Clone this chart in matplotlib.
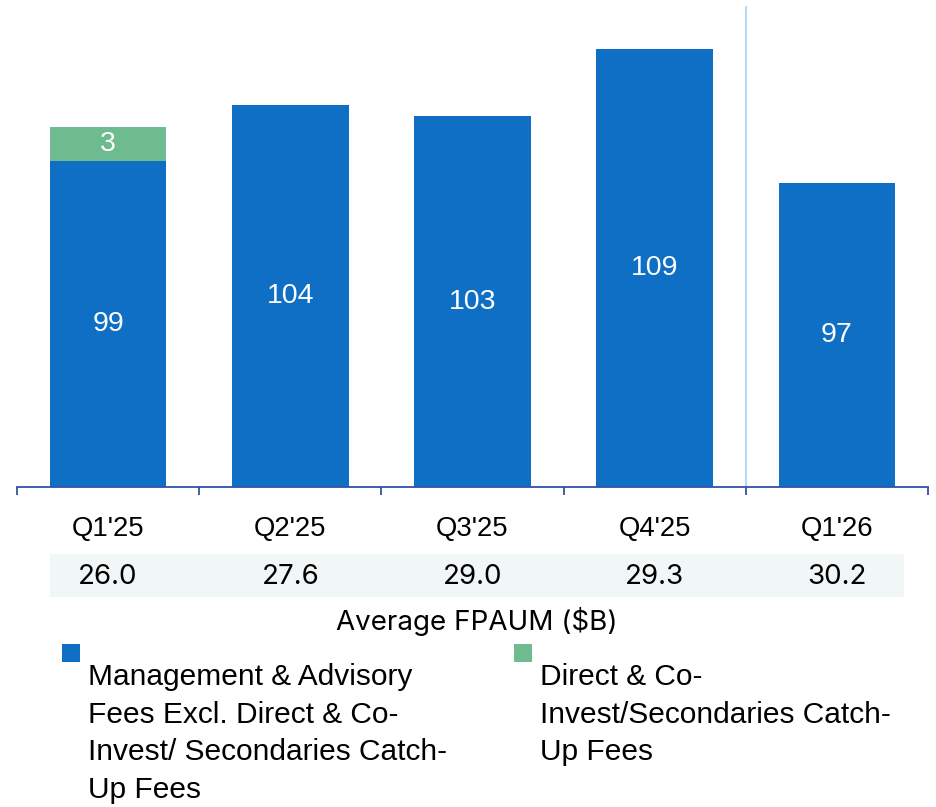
import matplotlib
matplotlib.use("Agg")
import matplotlib.pyplot as plt
from matplotlib.patches import Rectangle
import numpy as np

# data
quarters = ["Q1'25", "Q2'25", "Q3'25", "Q4'25", "Q1'26"]
mgmt_fees = [99, 104, 103, 109, 97]
catchup_fees = [3, 0, 0, 0, 0]
avg_fpaum = ["26.0", "27.6", "29.0", "29.3", "30.2"]
legend_labels = ["Management & Advisory\nFees Excl. Direct & Co-\nInvest/ Secondaries Catch-\nUp Fees",
                 "Direct & Co-\nInvest/Secondaries Catch-\nUp Fees"]

BLUE = "#0e6fc4"
GREEN = "#6dbb8f"
AXIS = "#3350a8"

plt.rcParams['font.family'] = ['Liberation Sans', 'DejaVu Sans']
GROTESK = ['Inter', 'Roboto', 'DejaVu Sans']

W, H = 936, 807
fig = plt.figure(figsize=(W/100, H/100), dpi=100)
ax = fig.add_axes([17/W, 1-487/H, 911/W, 487/H])

x = np.arange(len(quarters))
mgmt = np.array(mgmt_fees)
catch = np.array(catchup_fees)
ax.bar(x, mgmt, width=0.64, color=BLUE, bottom=0, zorder=2)
ax.bar(x, catch, width=0.64, bottom=mgmt, color=GREEN, zorder=2)
ax.set_ylim(69.8, 113.4)
ax.set_xlim(-0.5, 4.5)

ymin = ax.get_ylim()[0]
for i in range(len(x)):
    ax.text(x[i], (ymin + mgmt[i]) / 2, str(mgmt[i]), ha="center", va="center",
            color="white", fontsize=20.5, zorder=3)
    if catch[i] > 0:
        ax.text(x[i], mgmt[i] + catch[i] / 2, str(catch[i]), ha="center", va="center",
                color="white", fontsize=20.5, zorder=3)

# separator before the latest quarter
ax.axvline(3.5, ymin=0, ymax=(487-7)/487, color="#b5d8f7", lw=1.5, zorder=1)

for s in ["top", "right", "left"]:
    ax.spines[s].set_visible(False)
ax.spines["bottom"].set_color(AXIS)
ax.spines["bottom"].set_linewidth(1.3)
ax.set_yticks([])
ax.set_xticks(x)
ax.set_xticklabels(quarters, fontsize=19.8)
ax.tick_params(axis="x", which="major", length=0, pad=21)
ax.set_xticks(np.arange(-0.5, 5, 1), minor=True)
ax.tick_params(axis="x", which="minor", length=6, width=1.3, color=AXIS, direction="out")

# Average FPAUM row
fig.add_artist(Rectangle((50/W, 1-597/H), (904-50)/W, 43/H, transform=fig.transFigure,
                         facecolor="#f1f6f6", edgecolor="none", zorder=0))
for i in range(len(x)):
    ax.text(x[i], (487-577)/487, avg_fpaum[i], transform=ax.get_xaxis_transform(),
            ha="center", va="center", fontsize=20, color="black", family=GROTESK)
fig.text(477/W, 1-621/H, "Average FPAUM ($B)", ha="center", va="center", fontsize=20,
         family=GROTESK)

# legend
colors = [BLUE, GREEN]
sq_x = [62, 514]
txt_x = [88, 540]
for c, sx, tx, lab in zip(colors, sq_x, txt_x, legend_labels):
    fig.add_artist(Rectangle((sx/W, 1-662/H), 18/W, 18/H, transform=fig.transFigure,
                             facecolor=c, edgecolor="none"))
    fig.text(tx/W, 1-663/H, lab, ha="left", va="top", fontsize=21.5, linespacing=1.44)

fig.savefig("out.png", dpi=100)
